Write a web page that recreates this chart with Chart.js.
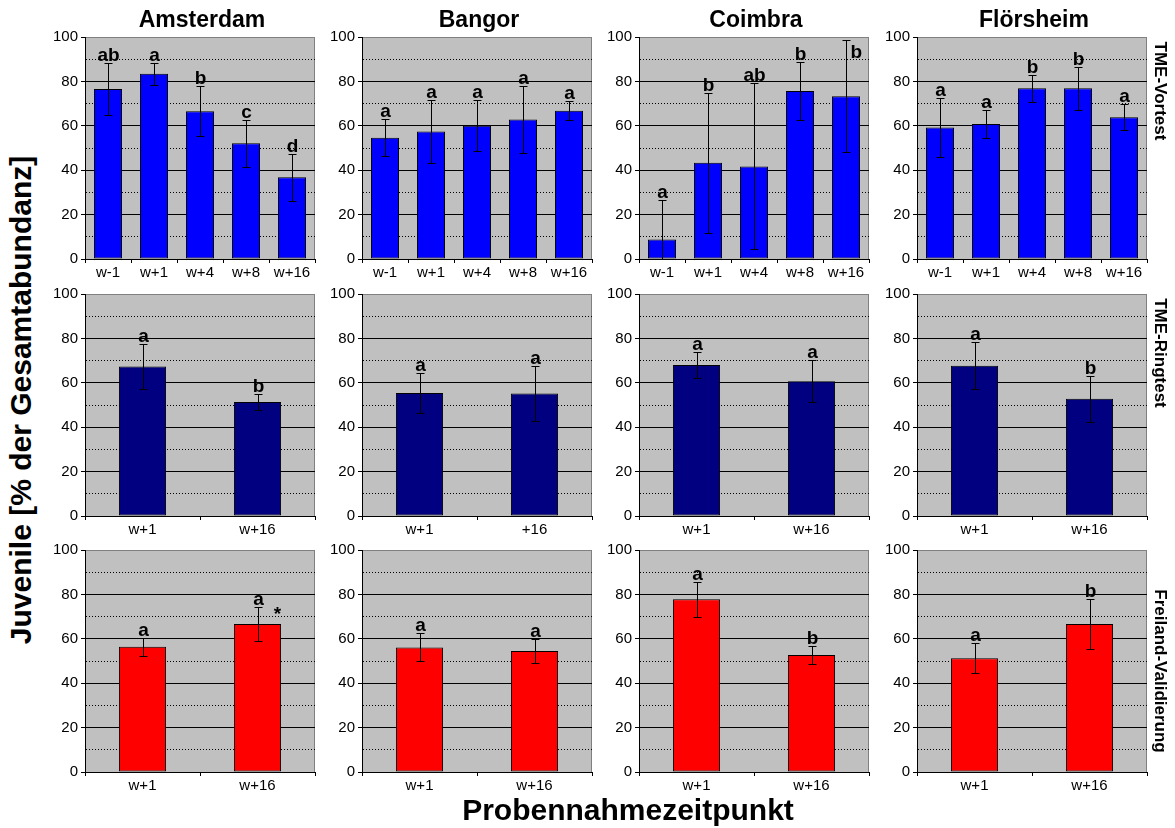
<!DOCTYPE html>
<html>
<head>
<meta charset="utf-8">
<script src="https://cdn.jsdelivr.net/npm/chart.js@4.4.1/dist/chart.umd.min.js"></script>
<style>
    body { margin: 0; width: 1175px; height: 828px; background: #fff; position: relative; overflow: hidden;
           font-family: Arial, "Liberation Sans", sans-serif; }
    canvas { position: absolute; }
    .lbl { position: absolute; font-weight: bold; color: #000; white-space: nowrap; }
</style>
</head>
<body>
<script>
const sites = ['Amsterdam', 'Bangor', 'Coimbra', 'Flörsheim'];
const rowNames = ['TME-Vortest', 'TME-Ringtest', 'Freiland-Validierung'];

const vortestLabels = ['w-1', 'w+1', 'w+4', 'w+8', 'w+16'];
const pairLabels = ['w+1', 'w+16'];
const bangorRingLabels = ['w+1', '+16'];
const yTicks = [0, 20, 40, 60, 80, 100];

// TME-Vortest (per site)
const vortestMeans = [
    [76.6, 83.4, 66.6, 52.1, 36.8],
    [54.6, 57.4, 60.0, 62.8, 66.8],
    [8.8, 43.3, 41.7, 75.7, 73.3],
    [59.2, 60.8, 76.9, 76.9, 63.9]
];
const vortestErr = [
    [11.8, 5.0, 11.3, 10.5, 10.5],
    [8.4, 14.0, 11.5, 15.2, 4.4],
    [18.0, 31.6, 37.4, 13.2, 25.3],
    [13.3, 6.1, 6.0, 9.8, 5.8]
];
const vortestLetters = [
    ['ab', 'a', 'b', 'c', 'd'],
    ['a', 'a', 'a', 'a', 'a'],
    ['a', 'b', 'ab', 'b', 'b'],
    ['a', 'a', 'b', 'b', 'a']
];

// TME-Ringtest
const ringMeans = [[67.3, 51.3], [55.4, 55.2], [68.0, 60.7], [67.7, 52.8]];
const ringErr = [[10.1, 3.5], [9.1, 12.3], [6.0, 9.5], [10.5, 10.3]];
const ringLetters = [['a', 'b'], ['a', 'a'], ['a', 'a'], ['a', 'b']];

// Freiland-Validierung
const feldMeans = [[56.4, 66.7], [56.1, 54.5], [77.8, 52.7], [51.2, 66.7]];
const feldErr = [[4.0, 7.7], [6.3, 5.2], [7.8, 4.0], [6.8, 11.4]];
const feldLetters = [['a', 'a'], ['a', 'a'], ['a', 'b'], ['a', 'b']];
const feldStars = [['', '*'], ['', ''], ['', ''], ['', '']];

const rowColors = ['#0000FF', '#000080', '#FF0000'];

// layout
const FONT = 'Arial, "Liberation Sans", sans-serif';
const plotLeft = [85, 362, 639, 917];
const plotTop = [35, 292, 548];
const plotW = 230, plotH = 224;
const axisW = 40, padTop = 10, padRight = 6, axisH = 24;

const panelDeco = {
    id: 'panelDeco',
    beforeDraw(chart) {
        const { ctx, chartArea: a } = chart;
        ctx.save();
        ctx.fillStyle = '#C0C0C0';
        ctx.fillRect(a.left, a.top, a.right - a.left, a.bottom - a.top);
        ctx.strokeStyle = '#808080';
        ctx.lineWidth = 1;
        ctx.strokeRect(a.left + 0.5, a.top + 0.5, a.right - a.left - 1, a.bottom - a.top);
        ctx.restore();
    },
    afterDatasetsDraw(chart) {
        const ds = chart.data.datasets[0];
        const meta = chart.getDatasetMeta(0);
        const y = chart.scales.y;
        const a = chart.chartArea;
        const ctx = chart.ctx;
        ctx.save();
        meta.data.forEach((bar, i) => {
            const v = ds.data[i], e = ds.errors[i];
            const x = Math.round(bar.x) + 0.5;
            const yTop = Math.round(y.getPixelForValue(v + e)) + 0.5;
            const yBot = Math.min(Math.round(y.getPixelForValue(v - e)) + 0.5, a.bottom);
            ctx.strokeStyle = '#000';
            ctx.lineWidth = 1;
            ctx.beginPath();
            ctx.moveTo(x, yTop); ctx.lineTo(x, yBot);
            ctx.moveTo(x - 4, yTop); ctx.lineTo(x + 4, yTop);
            if (v - e >= 0) { ctx.moveTo(x - 4, yBot); ctx.lineTo(x + 4, yBot); }
            ctx.stroke();

            ctx.fillStyle = '#000';
            ctx.font = 'bold 19px ' + FONT;
            ctx.textBaseline = 'alphabetic';
            const txt = ds.letters[i];
            if (yTop - 18 < a.top) {
                ctx.textAlign = 'left';
                ctx.fillText(txt, x + 4, yTop + 17);
            } else {
                ctx.textAlign = 'center';
                ctx.fillText(txt, x, yTop - 3);
            }
            if (ds.stars && ds.stars[i]) {
                ctx.textAlign = 'center';
                ctx.fillText(ds.stars[i], x + 19, yTop + 12);
            }
        });
        ctx.restore();
    }
};

function addText(txt, css) {
    const d = document.createElement('div');
    d.className = 'lbl';
    d.textContent = txt;
    Object.assign(d.style, css);
    document.body.appendChild(d);
}

function makePanel(row, col, labels, means, errs, letters, stars) {
    const cv = document.createElement('canvas');
    cv.width = axisW + plotW + padRight;
    cv.height = padTop + plotH + axisH;
    cv.style.left = (plotLeft[col] - axisW) + 'px';
    cv.style.top = (plotTop[row] - padTop) + 'px';
    document.body.appendChild(cv);

    new Chart(cv, {
        type: 'bar',
        data: {
            labels: labels,
            datasets: [{
                data: means,
                errors: errs,
                letters: letters,
                stars: stars,
                backgroundColor: rowColors[row],
                borderColor: '#000',
                borderWidth: 1,
                borderSkipped: false,
                categoryPercentage: 1,
                barPercentage: labels.length > 2 ? 0.61 : 0.41
            }]
        },
        options: {
            responsive: false,
            animation: false,
            events: [],
            layout: { padding: { top: padTop, right: padRight, left: 0, bottom: 0 } },
            plugins: { legend: { display: false }, tooltip: { enabled: false } },
            scales: {
                x: {
                    grid: { display: true, drawOnChartArea: false, offset: true, tickLength: 4, color: '#000' },
                    border: { color: '#000' },
                    ticks: { color: '#000', font: { size: 15, family: FONT }, padding: 1, maxRotation: 0, autoSkip: false },
                    afterFit(s) { s.height = axisH; }
                },
                y: {
                    min: 0,
                    max: 100,
                    ticks: {
                        stepSize: 10,
                        color: '#000',
                        padding: 3,
                        font: { size: 15, family: FONT },
                        callback: v => yTicks.includes(v) ? v : ''
                    },
                    grid: {
                        lineWidth: 1,
                        tickLength: 4,
                        color: c => (c.tick && c.tick.value === 100) ? '#808080' : '#000',
                        tickColor: c => (c.tick && c.tick.value % 20) ? 'rgba(0,0,0,0)' : '#000'
                    },
                    border: {
                        color: '#000',
                        dash: c => (c.tick && c.tick.value % 20) ? [1, 2] : []
                    },
                    afterFit(s) { s.width = axisW; }
                }
            }
        },
        plugins: [panelDeco]
    });
}

for (let c = 0; c < 4; c++) {
    makePanel(0, c, vortestLabels, vortestMeans[c], vortestErr[c], vortestLetters[c], null);
    makePanel(1, c, c === 1 ? bangorRingLabels : pairLabels, ringMeans[c], ringErr[c], ringLetters[c], null);
    makePanel(2, c, pairLabels, feldMeans[c], feldErr[c], feldLetters[c], feldStars[c]);

    addText(sites[c], {
        left: (plotLeft[c] + plotW / 2 + 2) + 'px', top: '8px', fontSize: '23px', lineHeight: '23px',
        transform: 'translateX(-50%)'
    });
}

const rowLabelY = [91, 353, 671];
rowNames.forEach((n, r) => {
    addText(n, {
        left: '1160px', top: rowLabelY[r] + 'px', fontSize: '17px', lineHeight: '17px',
        transform: 'translate(-50%, -50%) rotate(90deg)'
    });
});

addText('Juvenile [% der Gesamtabundanz]', {
    left: '21px', top: '400px', fontSize: '30px', lineHeight: '30px',
    transform: 'translate(-50%, -50%) rotate(-90deg)'
});
addText('Probennahmezeitpunkt', {
    left: '628px', top: '795px', fontSize: '30px', lineHeight: '30px',
    transform: 'translateX(-50%)'
});
</script>
</body>
</html>
